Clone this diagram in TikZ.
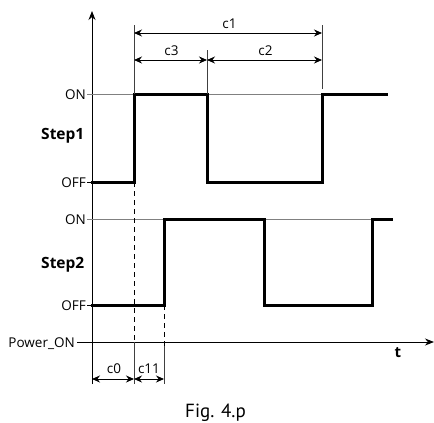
\documentclass[tikz,border=0pt]{standalone}
\usepackage{fontspec}
\setmainfont{Open Sans}
\newfontfamily\capfont{PT Sans}
\usetikzlibrary{arrows.meta}
\begin{document}
\begin{tikzpicture}[x=1pt,y=-1pt,
  lbl/.style={font=\fontsize{13.5}{15}\selectfont, inner sep=0pt, anchor=base},
  ylbl/.style={font=\fontsize{13.5}{15}\selectfont, inner sep=0pt, anchor=base east},
  steplbl/.style={font=\bfseries\fontsize{15.5}{17}\selectfont, inner sep=0pt, anchor=base east},
  axis/.style={line width=0.9pt},
  sig/.style={line width=3pt, line join=miter},
  guide/.style={line width=0.9pt, black!50},
  ext/.style={line width=0.7pt, black!75},
  dim/.style={line width=0.9pt, {Stealth[length=8pt,width=7pt]}-{Stealth[length=8pt,width=7pt]}},
  dashv/.style={line width=0.7pt, dash pattern=on 5pt off 4pt}]
\useasboundingbox (0,0) rectangle (434,423);
% axes
\coordinate (o) at (92,384);
\coordinate (ytop) at (92,11);
\draw[axis,-{Stealth[length=9pt,width=7pt]}] (o) -- (ytop);
\coordinate (p0) at (77,342);
\coordinate (tend) at (434,342);
\draw[axis,-{Stealth[length=9pt,width=7pt]}] (p0) -- (tend);
\node[ylbl] (pwr) at (75,347.5) {Power\_ON};
\node[font=\bfseries\fontsize{15}{17}\selectfont, inner sep=0pt, anchor=base] (t) at (398,357) {t};
% Step1
\node[ylbl] (on1) at (86,99) {ON};
\node[ylbl] (off1) at (86,187) {OFF};
\node[steplbl] (s1) at (84.5,139) {Step1};
\coordinate (g1a) at (87,94);
\coordinate (g1b) at (322,94);
\draw[guide] (g1a) -- (g1b);
\coordinate (t1a) at (87,182);
\coordinate (a0) at (91,182);
\draw[axis] (t1a) -- (a0);
\coordinate (a1) at (134,182);
\coordinate (a2) at (134,94);
\coordinate (a3) at (207,94);
\coordinate (a4) at (207,182);
\coordinate (a5) at (322,182);
\coordinate (a6) at (322,94);
\coordinate (a7) at (388,94);
\draw[sig] (a0) -- (a1) -- (a2) -- (a3) -- (a4) -- (a5) -- (a6) -- (a7);
% Step2
\node[ylbl] (on2) at (86,224) {ON};
\node[ylbl] (off2) at (86,310) {OFF};
\node[steplbl] (s2) at (84.5,268) {Step2};
\coordinate (g2a) at (87,219);
\coordinate (g2b) at (372,219);
\draw[guide] (g2a) -- (g2b);
\coordinate (t2a) at (87,305);
\coordinate (b0) at (91,305);
\draw[axis] (t2a) -- (b0);
\coordinate (b1) at (164,305);
\coordinate (b2) at (164,219);
\coordinate (b3) at (264,219);
\coordinate (b4) at (264,305);
\coordinate (b5) at (372,305);
\coordinate (b6) at (372,219);
\coordinate (b7) at (393,219);
\draw[sig] (b0) -- (b1) -- (b2) -- (b3) -- (b4) -- (b5) -- (b6) -- (b7);
% dashed guides
\coordinate (d1) at (134,342);
\coordinate (d2) at (164,346);
\coordinate (e1) at (134,384);
\coordinate (e2) at (164,384);
\draw[dashv] (a1) -- (d1);
\draw[dashv] (b1) -- (d2);
\draw[ext] (d1) -- (e1);
\draw[ext] (d2) -- (e2);
% top dimensions
\coordinate (u1) at (134,25);
\coordinate (u2) at (207,50);
\coordinate (u3) at (322,25);
\coordinate (u3b) at (322,89);
\draw[ext] (u1) -- (a2);
\draw[ext] (u2) -- (a3);
\draw[ext] (u3) -- (u3b);
\coordinate (c1a) at (134,33);
\coordinate (c1b) at (322,33);
\coordinate (c3a) at (134,60);
\coordinate (c3b) at (207,60);
\coordinate (c2b) at (322,60);
\draw[dim] (c1a) -- (c1b);
\draw[dim] (c3a) -- (c3b);
\draw[dim] (c3b) -- (c2b);
\node[lbl] (c1) at (229.5,28.3) {c1};
\node[lbl] (c3) at (171.5,55) {c3};
\node[lbl] (c2) at (265.5,55) {c2};
% bottom dimensions
\coordinate (c0a) at (92,379);
\coordinate (c0b) at (134,379);
\coordinate (c11b) at (164,379);
\draw[dim] (c0a) -- (c0b);
\draw[dim] (c0b) -- (c11b);
\node[lbl] (c0) at (114,373.3) {c0};
\node[lbl] (c11) at (149,373.3) {c11};
\node[font=\capfont\fontsize{19}{21}\selectfont, inner sep=0pt, anchor=base] (fig) at (215.5,417) {Fig. 4.p};
\end{tikzpicture}
\end{document}
